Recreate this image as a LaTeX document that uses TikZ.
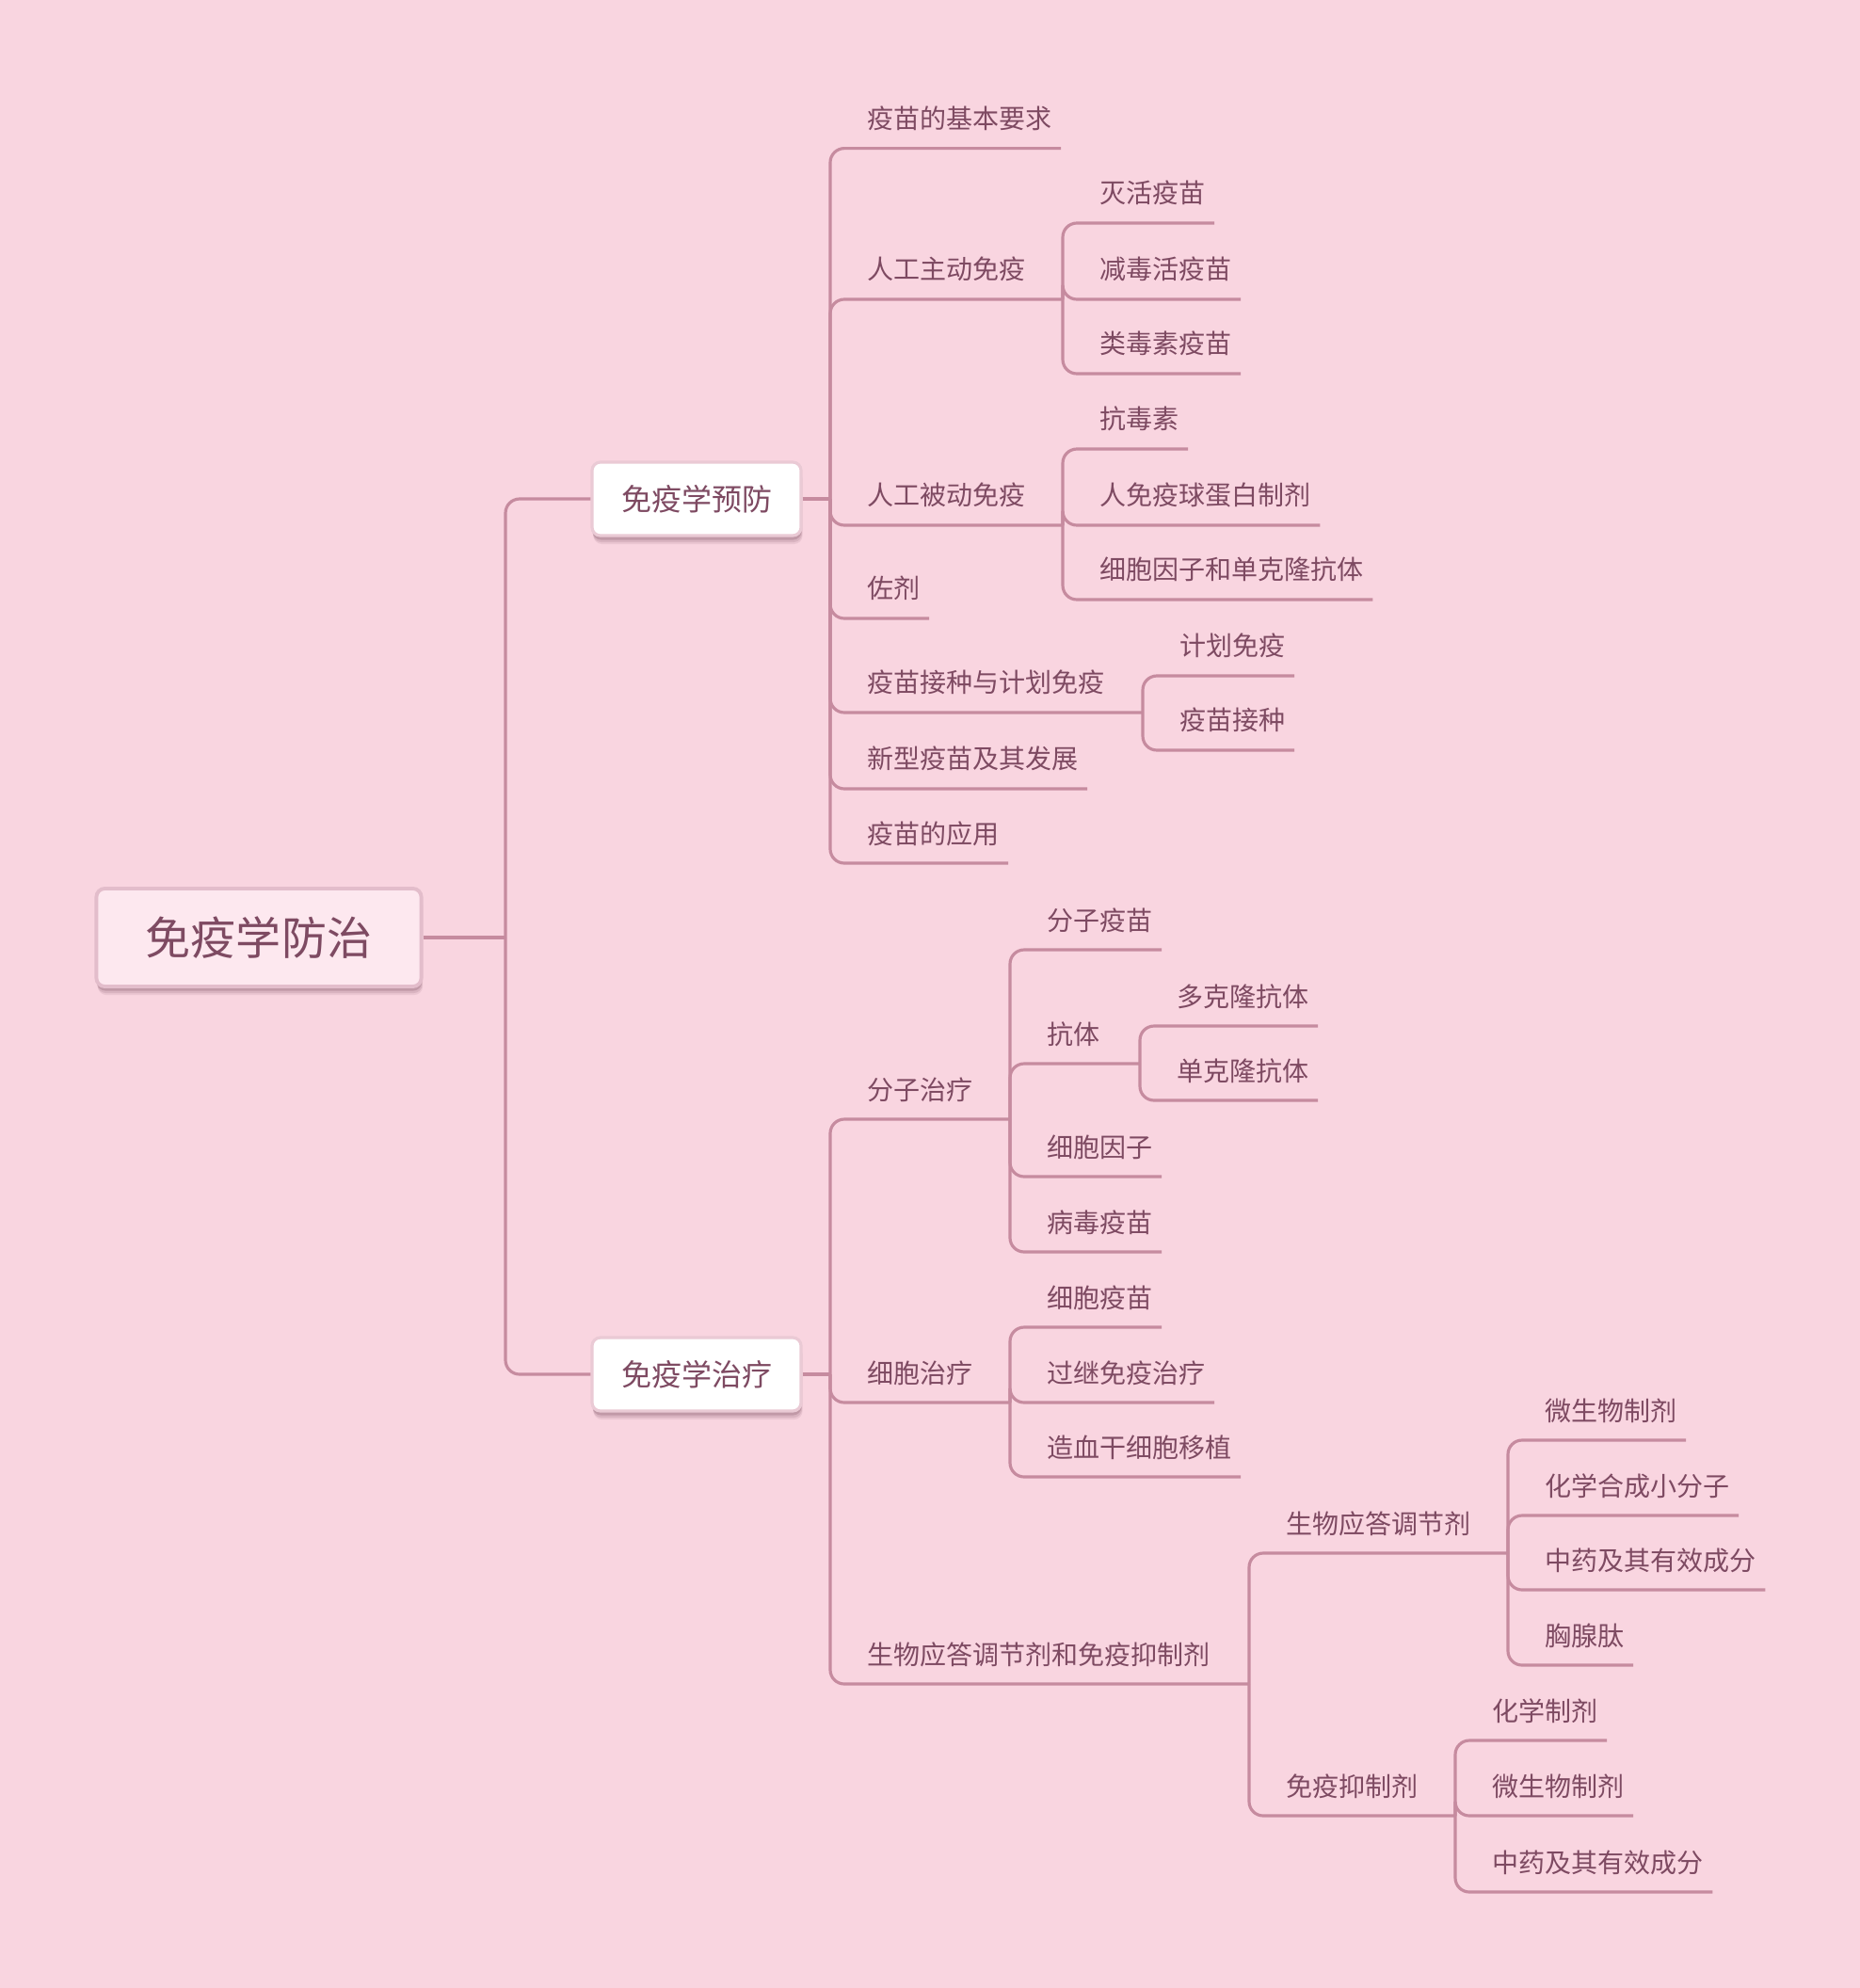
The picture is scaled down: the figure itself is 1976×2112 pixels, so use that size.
\documentclass[tikz,border=0pt]{standalone}
\usepackage{fontspec}
\setmainfont{Noto Sans CJK SC}
\usepackage{xcolor}
\usetikzlibrary{calc,shadows}

\definecolor{bgpink}{HTML}{F9D5E0}
\definecolor{linkpink}{HTML}{C68B9F}
\definecolor{txtplum}{HTML}{7E4A62}
\definecolor{rootfill}{HTML}{FDE8EF}
\definecolor{rootedge}{HTML}{E3BDCB}
\definecolor{boxedge}{HTML}{EACAD5}
\definecolor{shade}{HTML}{8A6070}

\begin{document}
\begin{tikzpicture}[x=0.01cm, y=-0.01cm,
  link/.style={line width=0.9pt, draw=linkpink, rounded corners=0.15cm},
  topic/.style={anchor=south west, inner xsep=0.1cm, inner ysep=0.21cm, text depth=0pt,
    outer sep=0pt, text=txtplum, font=\fontsize{7.97pt}{9pt}\selectfont},
  softshadow/.style={
    drop shadow={shadow xshift=0.015cm, shadow yshift=-0.09cm, fill=shade, opacity=0.12},
    drop shadow={shadow xshift=0.01cm, shadow yshift=-0.07cm, fill=shade, opacity=0.18},
    drop shadow={shadow xshift=0.005cm, shadow yshift=-0.045cm, fill=shade, opacity=0.3}},
  rootbox/.style={rounded corners=0.09cm, fill=rootfill, draw=rootedge, line width=1.1pt,
    minimum width=3.45cm, minimum height=1.04cm, text=txtplum, font=\fontsize{13.66pt}{16pt}\selectfont,
    softshadow},
  mainbox/.style={rounded corners=0.09cm, fill=white, draw=boxedge, line width=0.9pt,
    minimum width=2.22cm, minimum height=0.78cm, text=txtplum, font=\fontsize{9.1pt}{11pt}\selectfont,
    softshadow}]
  \useasboundingbox[fill=bgpink] (0,0) rectangle (1976,2112);

  % Root and the two main topics
  \node[rootbox] (root) at (275,996) {免疫学防治};
  \node[mainbox] (prev) at (740,530) {免疫学预防};
  \node[mainbox] (treat) at (740,1460) {免疫学治疗};
  \coordinate (rj) at (537,996);
  \draw[link] (root.east) -- (rj);
  \draw[link] (rj) |- (prev.west);
  \draw[link] (rj) |- (treat.west);

  % Prevention branch
  \coordinate (pj) at (882,530);
  \draw[link] (prev.east) -- (pj);
  \node[topic] (req) at (911,157.6) {疫苗的基本要求};
  \node[topic] (active) at (911,318) {人工主动免疫};
  \node[topic] (passive) at (911,558) {人工被动免疫};
  \node[topic] (adj) at (911,657) {佐剂};
  \node[topic] (plan) at (911,757) {疫苗接种与计划免疫};
  \node[topic] (newvac) at (911,838) {新型疫苗及其发展};
  \node[topic] (apply) at (911,917) {疫苗的应用};
  \coordinate (aj) at (1129,318);
  \coordinate (bj) at (1129,558);
  \coordinate (plj) at (1214,757);
  \draw[link] (pj) |- (req.south east);
  \draw[link] (pj) |- (aj);
  \draw[link] (pj) |- (bj);
  \draw[link] (pj) |- (adj.south east);
  \draw[link] (pj) |- (plj);
  \draw[link] (pj) |- (newvac.south east);
  \draw[link] (pj) |- (apply.south east);

  % Active immunization
  \node[topic] (inact) at (1158,237) {灭活疫苗};
  \node[topic] (atten) at (1158,318) {减毒活疫苗};
  \node[topic] (toxoid) at (1158,397) {类毒素疫苗};
  \draw[link] (aj) |- (inact.south east);
  \draw[link] (aj) |- (atten.south east);
  \draw[link] (aj) |- (toxoid.south east);

  % Passive immunization
  \node[topic] (antitox) at (1158,477) {抗毒素};
  \node[topic] (igg) at (1158,558) {人免疫球蛋白制剂};
  \node[topic] (cytmab) at (1158,637) {细胞因子和单克隆抗体};
  \draw[link] (bj) |- (antitox.south east);
  \draw[link] (bj) |- (igg.south east);
  \draw[link] (bj) |- (cytmab.south east);

  % Vaccination and planned immunization
  \node[topic] (planimm) at (1243,718) {计划免疫};
  \node[topic] (vacc) at (1243,797) {疫苗接种};
  \draw[link] (plj) |- (planimm.south east);
  \draw[link] (plj) |- (vacc.south east);

  % Treatment branch
  \coordinate (tj) at (882,1460);
  \draw[link] (treat.east) -- (tj);
  \node[topic] (mol) at (911,1189) {分子治疗};
  \node[topic] (cell) at (911,1490) {细胞治疗};
  \node[topic] (brm) at (911,1789) {生物应答调节剂和免疫抑制剂};
  \coordinate (mj) at (1073,1189);
  \coordinate (cj) at (1073,1490);
  \coordinate (brj) at (1327,1789);
  \draw[link] (tj) |- (mj);
  \draw[link] (tj) |- (cj);
  \draw[link] (tj) |- (brj);

  % Molecular therapy
  \node[topic] (molvac) at (1102,1009) {分子疫苗};
  \node[topic] (anti) at (1102,1130) {抗体};
  \node[topic] (cyto) at (1102,1250) {细胞因子};
  \node[topic] (virvac) at (1102,1330) {病毒疫苗};
  \coordinate (anj) at (1211,1130);
  \draw[link] (mj) |- (molvac.south east);
  \draw[link] (mj) |- (anj);
  \draw[link] (mj) |- (cyto.south east);
  \draw[link] (mj) |- (virvac.south east);
  \node[topic] (poly) at (1240,1090) {多克隆抗体};
  \node[topic] (mono) at (1240,1169) {单克隆抗体};
  \draw[link] (anj) |- (poly.south east);
  \draw[link] (anj) |- (mono.south east);

  % Cell therapy
  \node[topic] (cellvac) at (1102,1410) {细胞疫苗};
  \node[topic] (adopt) at (1102,1490) {过继免疫治疗};
  \node[topic] (hsct) at (1102,1569) {造血干细胞移植};
  \draw[link] (cj) |- (cellvac.south east);
  \draw[link] (cj) |- (adopt.south east);
  \draw[link] (cj) |- (hsct.south east);

  % Modifiers and suppressants
  \node[topic] (bio) at (1356,1650) {生物应答调节剂};
  \node[topic] (supp) at (1356,1929) {免疫抑制剂};
  \coordinate (bij) at (1602,1650);
  \coordinate (sj) at (1546,1929);
  \draw[link] (brj) |- (bij);
  \draw[link] (brj) |- (sj);
  \node[topic] (microb) at (1631,1530) {微生物制剂};
  \node[topic] (chem) at (1631,1610) {化学合成小分子};
  \node[topic] (herb) at (1631,1689) {中药及其有效成分};
  \node[topic] (thym) at (1631,1769) {胸腺肽};
  \draw[link] (bij) |- (microb.south east);
  \draw[link] (bij) |- (chem.south east);
  \draw[link] (bij) |- (herb.south east);
  \draw[link] (bij) |- (thym.south east);
  \node[topic] (chemag) at (1575,1849) {化学制剂};
  \node[topic] (microbb) at (1575,1929) {微生物制剂};
  \node[topic] (herbb) at (1575,2010) {中药及其有效成分};
  \draw[link] (sj) |- (chemag.south east);
  \draw[link] (sj) |- (microbb.south east);
  \draw[link] (sj) |- (herbb.south east);
\end{tikzpicture}
\end{document}
